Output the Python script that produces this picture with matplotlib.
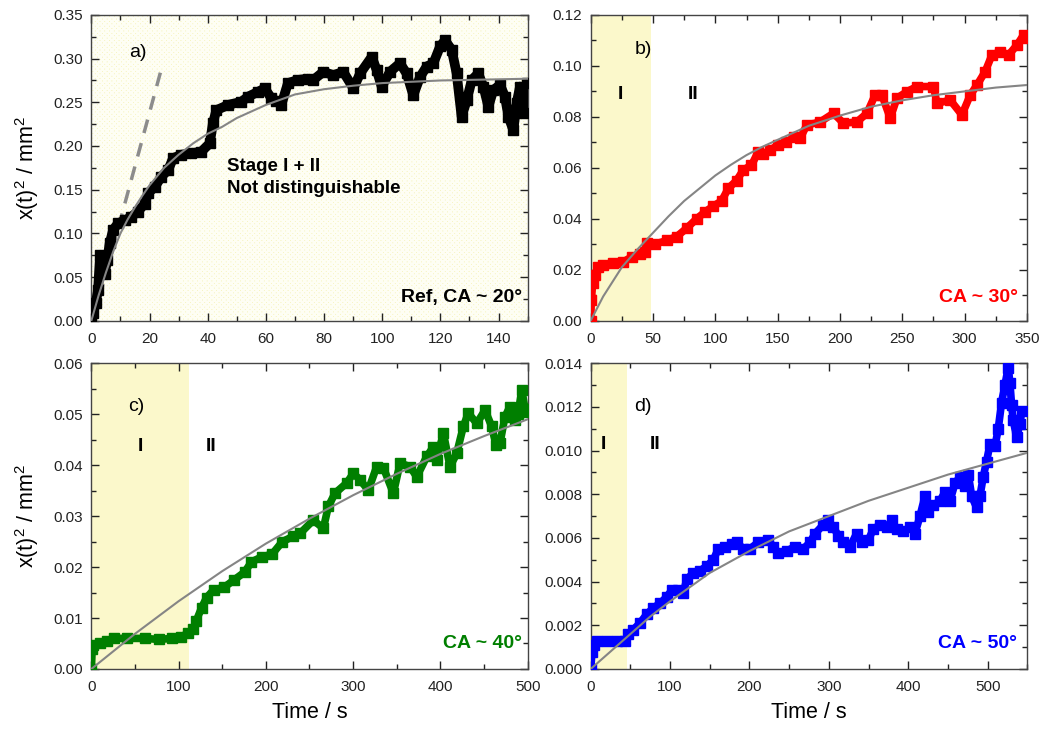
import matplotlib
matplotlib.use('Agg')
import matplotlib.pyplot as plt
from matplotlib.patches import Rectangle
from matplotlib.ticker import MultipleLocator, FormatStrFormatter

plt.rcParams['font.family'] = ['Liberation Sans', 'DejaVu Sans']
plt.rcParams['mathtext.fontset'] = 'custom'
plt.rcParams['mathtext.rm'] = 'Liberation Sans'
plt.rcParams['mathtext.it'] = 'Liberation Sans:italic'
plt.rcParams['hatch.linewidth'] = 1.6

# --- a) Ref, CA ~ 20 deg ---
a_t = [0, 0.6, 1.5, 2.3, 3.0, 3.4, 4.6, 5.5, 6.3, 7.5, 9.2, 11.5, 13.8, 16, 18.4, 19.5, 21.8, 24.1,
       26.4, 28.1, 30.9, 34.4, 37.8, 40.7, 41.8, 43, 47, 51.6, 53.9, 57.3, 59.6, 61.9, 63.5, 65.3,
       67.6, 71, 74.5, 76.3, 79.8, 83.2, 86.6, 90.1, 92.4, 96.4, 98.1, 99.8, 102.7, 106.1, 108.4,
       110.7, 113, 115.3, 117.6, 119.9, 121.6, 123.9, 125.6, 127.3, 129.1, 130.8, 133, 134.8,
       136.5, 138.2, 140.5, 142.2, 143.4, 145.1, 146.2, 147.4, 148.5, 149.7]
a_y = [0.005, 0.0085, 0.02, 0.035, 0.075, 0.069, 0.054, 0.07, 0.0886, 0.104, 0.1115, 0.115, 0.119,
       0.125, 0.134, 0.146, 0.153, 0.165, 0.1725, 0.186, 0.19, 0.1916, 0.1935, 0.203, 0.226, 0.241,
       0.247, 0.2507, 0.2565, 0.262, 0.266, 0.2546, 0.252, 0.247, 0.272, 0.2756, 0.277, 0.2756,
       0.285, 0.281, 0.285, 0.266, 0.283, 0.302, 0.287, 0.268, 0.285, 0.2947, 0.283, 0.258, 0.279,
       0.291, 0.2947, 0.314, 0.321, 0.31, 0.283, 0.2336, 0.2527, 0.2756, 0.283, 0.268, 0.245,
       0.264, 0.27, 0.2565, 0.2336, 0.218, 0.249, 0.268, 0.2375, 0.272]
a_fit_t = [0, 2.5, 5, 7.5, 10, 12.5, 15, 17.5, 20, 25, 30, 35, 40, 45, 50, 60, 70, 80, 90, 100, 120, 150]
a_fit_y = [0, 0.029, 0.055, 0.079, 0.10, 0.116, 0.13, 0.143, 0.155, 0.175, 0.19, 0.203, 0.214,
           0.222, 0.232, 0.247, 0.259, 0.265, 0.269, 0.272, 0.275, 0.277]
a_dash_t = [0.6, 24.3]
a_dash_y = [0.0, 0.291]

# --- b) CA ~ 30 deg ---
b_t = [0, 0.5, 1.6, 3.5, 6, 10, 18, 26, 33, 39.6, 43.6, 45.5, 51.6, 61, 69, 77, 85, 92, 98.5, 105,
       110.5, 117, 122.5, 129, 134.5, 138.6, 144, 150.6, 157, 162.7, 168, 173.4, 184, 194.8, 202.8,
       213.5, 221.6, 228.2, 233.6, 240.3, 245.6, 253.7, 261.7, 275, 277.8, 288.4, 297.8, 304.5,
       309.9, 316.5, 321.9, 328.6, 335.2, 342, 347.3, 349.5]
b_y = [0.0, 0.008, 0.0147, 0.018, 0.0212, 0.022, 0.0225, 0.023, 0.0251, 0.026, 0.027, 0.0304, 0.030,
       0.0315, 0.033, 0.0363, 0.040, 0.0428, 0.045, 0.047, 0.052, 0.055, 0.0592, 0.061, 0.0664,
       0.0655, 0.067, 0.069, 0.070, 0.072, 0.0716, 0.0768, 0.078, 0.0814, 0.0775, 0.078, 0.0814,
       0.0886, 0.0886, 0.0795, 0.0873, 0.0899, 0.0919, 0.0919, 0.0853, 0.0866, 0.0808, 0.0886,
       0.0925, 0.0978, 0.1043, 0.1056, 0.1043, 0.1082, 0.1122, 0.111]
b_fit_t = [0, 10, 25, 37.5, 50, 62.5, 75, 87.5, 100, 112.5, 125, 137.5, 150, 175, 200, 225, 250,
           275, 300, 325, 350]
b_fit_y = [0, 0.0095, 0.021, 0.028, 0.0345, 0.041, 0.047, 0.052, 0.057, 0.0612, 0.065, 0.0682,
           0.071, 0.0765, 0.0805, 0.084, 0.0865, 0.0885, 0.090, 0.0915, 0.0925]

# --- c) CA ~ 40 deg ---
c_t = [0, 1, 2, 10, 18, 26, 41, 61, 77, 93, 103, 110.5, 116.4, 120.4, 126.3, 132, 140, 152, 163.8,
       175.6, 183.5, 195.3, 207, 219, 231, 239.2, 254.4, 265.9, 271.6, 279.3, 292.7, 300.3, 307.9,
       317.4, 327, 334.7, 346.1, 353.8, 365.2, 372.9, 384.4, 392, 395.8, 403.4, 411, 418.7, 426.3,
       432, 441.7, 451.2, 458.8, 463.7, 468.3, 474, 479.8, 485.6, 489, 493.3, 497, 500]
c_y = [0.0, 0.004, 0.0047, 0.005, 0.0055, 0.006, 0.006, 0.006, 0.0058, 0.006, 0.0063, 0.007, 0.0078,
       0.0095, 0.012, 0.014, 0.0155, 0.016, 0.0175, 0.019, 0.021, 0.022, 0.0225, 0.025, 0.026,
       0.0266, 0.0292, 0.0276, 0.0319, 0.0345, 0.0365, 0.0384, 0.0371, 0.0351, 0.0397, 0.0395,
       0.0345, 0.0404, 0.0397, 0.0377, 0.0417, 0.0436, 0.041, 0.0463, 0.0397, 0.0423, 0.0476,
       0.0502, 0.0482, 0.0508, 0.0476, 0.044, 0.0443, 0.0495, 0.0515, 0.0489, 0.050, 0.0548,
       0.051, 0.0505]
c_fit_t = [0, 50, 100, 150, 200, 250, 300, 350, 400, 450, 500]
c_fit_y = [0, 0.0069, 0.0133, 0.0192, 0.0246, 0.0295, 0.0341, 0.0383, 0.0422, 0.0457, 0.049]

# --- d) CA ~ 50 deg ---
d_t = [0, 1.7, 4, 7.5, 20, 32.7, 43, 47.4, 53.7, 62, 70.5, 79, 87.3, 95.7, 102, 110.4, 116.7, 121,
       129.3, 137.7, 146, 154.5, 160.8, 169, 177.5, 184, 192.3, 200.7, 211, 223.8, 230, 236.4,
       246.9, 257.4, 268, 276.3, 282.6, 293, 299.3, 305.6, 312, 318.2, 326.6, 335, 341.3, 349.7,
       356, 364.4, 372.8, 379, 385.4, 393.8, 402.2, 408.5, 414.8, 421, 425.3, 431.6, 440, 446.3,
       452.6, 458.9, 465.2, 471.5, 475.7, 480, 486.1, 490.3, 494.5, 498.7, 503, 509.3, 513.4,
       517.6, 521.8, 526, 528.1, 530.2, 532.3, 536.5, 540.7, 543]
d_y = [0.0, 0.0008, 0.0011, 0.0013, 0.0013, 0.0013, 0.0013, 0.0016, 0.0018, 0.0021, 0.0025, 0.0028,
       0.003, 0.0033, 0.0036, 0.0036, 0.0035, 0.0041, 0.0044, 0.0045, 0.0047, 0.005, 0.0055,
       0.0056, 0.0057, 0.0058, 0.0055, 0.0055, 0.0058, 0.0059, 0.0056, 0.0053, 0.0054, 0.0056,
       0.0055, 0.0058, 0.0062, 0.0066, 0.0068, 0.0065, 0.0061, 0.0058, 0.0056, 0.0062, 0.0058,
       0.0059, 0.0064, 0.0066, 0.0065, 0.0068, 0.0064, 0.0063, 0.0065, 0.0062, 0.007, 0.0079,
       0.0072, 0.0075, 0.0077, 0.0081, 0.0077, 0.0085, 0.0088, 0.0084, 0.0089, 0.0079, 0.0074,
       0.0079, 0.0088, 0.0095, 0.0103, 0.0102, 0.011, 0.0122, 0.013, 0.0138, 0.0131, 0.0121,
       0.0114, 0.0106, 0.0112, 0.0118]
d_fit_t = [0, 25, 50, 75, 100, 150, 200, 250, 300, 350, 400, 450, 500, 550]
d_fit_y = [0, 0.0008, 0.0016, 0.0024, 0.0031, 0.0044, 0.0054, 0.0063, 0.0070, 0.0077, 0.0083,
           0.0089, 0.0094, 0.0099]

SHADE = '#fbf8cb'
FIT = '#858585'

fig = plt.figure(figsize=(10.44, 7.30), dpi=100)
ax_a = fig.add_axes([0.0875, 0.5607, 0.4179, 0.4188])
ax_b = fig.add_axes([0.5658, 0.5607, 0.4179, 0.4188])
ax_c = fig.add_axes([0.0875, 0.0836, 0.4179, 0.4188])
ax_d = fig.add_axes([0.5658, 0.0836, 0.4182, 0.4188])


def style(ax, xmax, xmaj, ymax, ymaj, yfmt):
    ax.set_xlim(0, xmax)
    ax.set_ylim(0, ymax)
    ax.xaxis.set_major_locator(MultipleLocator(xmaj))
    ax.xaxis.set_minor_locator(MultipleLocator(xmaj / 2))
    ax.yaxis.set_major_locator(MultipleLocator(ymaj))
    ax.yaxis.set_minor_locator(MultipleLocator(ymaj / 2))
    ax.yaxis.set_major_formatter(FormatStrFormatter(yfmt))
    ax.tick_params(which='both', direction='in', top=True, right=True,
                   labelsize=11, colors='#222222', width=1.0)
    ax.tick_params(axis='x', which='major', length=6, pad=8)
    ax.tick_params(axis='y', which='major', length=6, pad=6)
    ax.tick_params(which='minor', length=3.5)
    for s in ax.spines.values():
        s.set_color('#444444')
        s.set_linewidth(1.0)


def data(ax, t, y, color, lw=5.5, ms=6.5):
    ax.plot(t, y, '-', color=color, lw=lw, solid_joinstyle='round', solid_capstyle='butt', zorder=3)
    ax.plot(t, y, 's', color=color, ms=ms, zorder=3)


# panel a
ax_a.set_facecolor('#f6f3bd')
ax_a.add_patch(Rectangle((0, 0), 1, 1, transform=ax_a.transAxes, facecolor='none',
                         edgecolor='#fefef4', hatch='x' * 7, lw=0, zorder=0))
data(ax_a, a_t, a_y, 'black', lw=7, ms=7.5)
ax_a.plot(a_fit_t, a_fit_y, color=FIT, lw=1.5, zorder=4)
ax_a.plot(a_dash_t, a_dash_y, '--', color='#8c8c8c', lw=2.5, dashes=(4, 3), zorder=2)
style(ax_a, 150, 20, 0.35, 0.05, '%.2f')
ax_a.text(16, 0.307, 'a)', fontsize=14, ha='center', va='center')
ax_a.text(46.5, 0.164, 'Stage I + II\nNot distinguishable', fontsize=13.5, fontweight='bold',
          ha='left', va='center', linespacing=1.35)
ax_a.text(148, 0.026, 'Ref, CA ~ 20°', fontsize=14, fontweight='bold', ha='right', va='center')
ax_a.set_ylabel('x(t)$^2$ / mm$^2$', fontsize=15.5, labelpad=9)

# panel b
ax_b.axvspan(0, 48.4, color=SHADE, lw=0, zorder=0)
data(ax_b, b_t, b_y, '#ff0000')
ax_b.plot(b_fit_t, b_fit_y, color=FIT, lw=1.5, zorder=4)
style(ax_b, 350, 50, 0.12, 0.02, '%.2f')
ax_b.text(42.3, 0.1063, 'b)', fontsize=14, ha='center', va='center')
ax_b.text(23.5, 0.0886, 'I', fontsize=14, fontweight='bold', ha='center', va='center')
ax_b.text(82.4, 0.0886, 'II', fontsize=14, fontweight='bold', ha='center', va='center')
ax_b.text(342.5, 0.009, 'CA ~ 30°', fontsize=14, fontweight='bold', ha='right', va='center',
          color='#ff0000')

# panel c
ax_c.axvspan(0, 112, color=SHADE, lw=0, zorder=0)
data(ax_c, c_t, c_y, '#007f00')
ax_c.plot(c_fit_t, c_fit_y, color=FIT, lw=1.5, zorder=4)
style(ax_c, 500, 100, 0.06, 0.01, '%.2f')
ax_c.text(51.3, 0.0515, 'c)', fontsize=14, ha='center', va='center')
ax_c.text(56, 0.0436, 'I', fontsize=14, fontweight='bold', ha='center', va='center')
ax_c.text(137, 0.0436, 'II', fontsize=14, fontweight='bold', ha='center', va='center')
ax_c.text(493, 0.005, 'CA ~ 40°', fontsize=14, fontweight='bold', ha='right', va='center',
          color='#007f00')
ax_c.set_ylabel('x(t)$^2$ / mm$^2$', fontsize=15.5, labelpad=9)
ax_c.set_xlabel('Time / s', fontsize=15.5, labelpad=6)

# panel d
ax_d.axvspan(0, 45.3, color=SHADE, lw=0, zorder=0)
data(ax_d, d_t, d_y, '#0000ff')
ax_d.plot(d_fit_t, d_fit_y, color=FIT, lw=1.5, zorder=4)
style(ax_d, 550, 100, 0.014, 0.002, '%.3f')
ax_d.text(66.3, 0.012, 'd)', fontsize=14, ha='center', va='center')
ax_d.text(16, 0.01026, 'I', fontsize=14, fontweight='bold', ha='center', va='center')
ax_d.text(81, 0.01026, 'II', fontsize=14, fontweight='bold', ha='center', va='center')
ax_d.text(537, 0.00118, 'CA ~ 50°', fontsize=14, fontweight='bold', ha='right', va='center',
          color='#0000ff')
ax_d.set_xlabel('Time / s', fontsize=15.5, labelpad=6)

fig.savefig('out.png', dpi=100)
